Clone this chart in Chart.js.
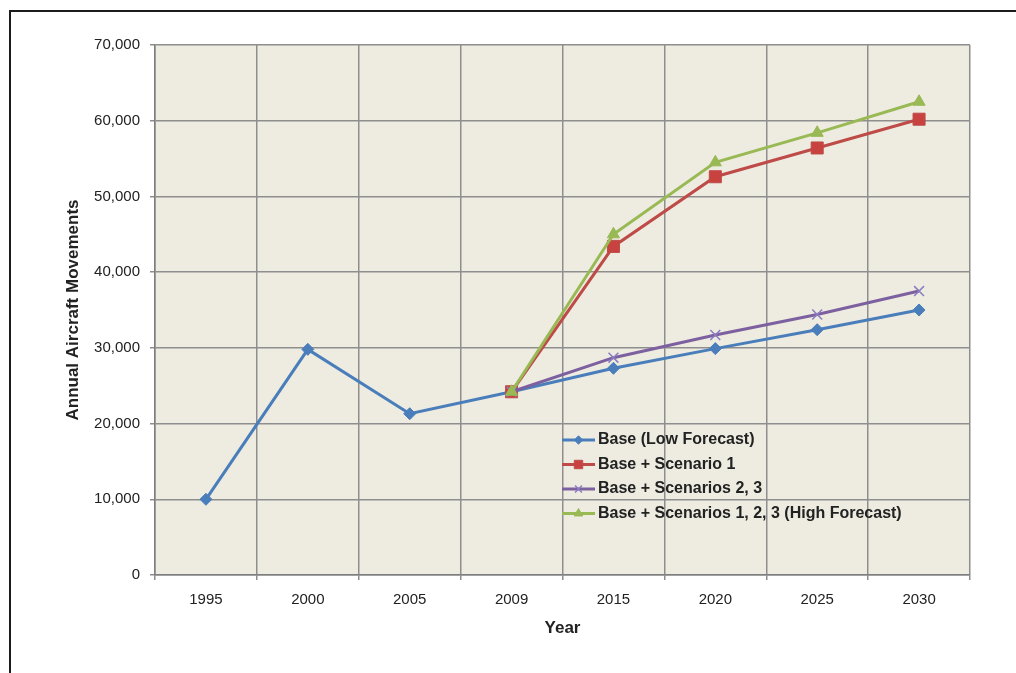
<!DOCTYPE html>
<html>
<head>
<meta charset="utf-8">
<title>Annual Aircraft Movements</title>
<script src="https://cdn.jsdelivr.net/npm/chart.js@4/dist/chart.umd.min.js"></script>
<style>
  html, body { margin: 0; padding: 0; background: #ffffff; }
  #wrap { position: relative; width: 1016px; height: 673px; overflow: hidden; }
  #frame { position: absolute; left: 9px; top: 10px; right: -10px; bottom: -10px;
           border-top: 2px solid #1c1c1c; border-left: 2px solid #1c1c1c; }
  canvas { position: absolute; left: 0; top: 0; }
</style>
</head>
<body>
<div id="wrap">
  <div id="frame"></div>
  <canvas id="chart" width="1016" height="673"></canvas>
</div>
<script>
// Category (year) labels along the x axis
const years = ['1995', '2000', '2005', '2009', '2015', '2020', '2025', '2030'];

// Annual aircraft movements per forecast series
const baseLow      = [10000, 29800, 21300, 24200, 27300, 29900, 32400, 35000];
const scenario1    = [null,  null,  null,  24200, 43400, 52600, 56400, 60200];
const scenarios23  = [null,  null,  null,  24200, 28700, 31700, 34400, 37500];
const highForecast = [null,  null,  null,  24200, 45000, 54500, 58400, 62500];

const seriesNames = [
  'Base (Low Forecast)',
  'Base + Scenario 1',
  'Base + Scenarios 2, 3',
  'Base + Scenarios 1, 2, 3 (High Forecast)'
];

// Value axis range
const yMin = 0, yMax = 70000, yStep = 10000;

const TEXT = '#222222';
const GRID = '#8e8e8e';
const FONT = "'Liberation Sans', Arial, sans-serif";

// Tan fill behind the plotting area
const plotBackground = {
  id: 'plotBackground',
  beforeDraw(chart, args, opts) {
    const { ctx, chartArea: a } = chart;
    ctx.save();
    ctx.fillStyle = opts.color;
    ctx.fillRect(a.left, a.top, a.right - a.left, a.bottom - a.top);
    ctx.restore();
  }
};

// Legend drawn inside the plotting area
const insetLegend = {
  id: 'insetLegend',
  afterDatasetsDraw(chart, args, opts) {
    const { ctx, chartArea: a } = chart;
    const x0 = a.left + opts.left;
    const y0 = a.top + opts.top;
    ctx.save();
    ctx.font = opts.font;
    ctx.textBaseline = 'middle';
    ctx.textAlign = 'left';
    chart.data.datasets.forEach((ds, i) => {
      const y = y0 + i * opts.rowHeight;
      ctx.strokeStyle = ds.borderColor;
      ctx.lineWidth = ds.borderWidth;
      ctx.beginPath();
      ctx.moveTo(x0, y);
      ctx.lineTo(x0 + opts.lineLength, y);
      ctx.stroke();
      ctx.fillStyle = ds.pointBackgroundColor;
      ctx.strokeStyle = ds.pointBorderColor;
      ctx.lineWidth = ds.pointBorderWidth;
      Chart.helpers.drawPoint(ctx, {
        pointStyle: ds.pointStyle,
        radius: ds.pointRadius * opts.markerScale,
        rotation: 0,
        borderWidth: ds.pointBorderWidth
      }, x0 + opts.lineLength / 2, y);
      ctx.fillStyle = opts.color;
      ctx.fillText(ds.label, x0 + opts.lineLength + opts.gap, y);
    });
    ctx.restore();
  }
};

function series(label, data, color, markerFill, markerBorder, style, radius, markerWidth, order) {
  return {
    label, data,
    borderColor: color,
    backgroundColor: color,
    borderWidth: 3,
    pointStyle: style,
    pointRadius: radius,
    pointHoverRadius: radius,
    pointBackgroundColor: markerFill,
    pointBorderColor: markerBorder,
    pointBorderWidth: markerWidth,
    tension: 0,
    spanGaps: false,
    order
  };
}

new Chart(document.getElementById('chart'), {
  type: 'line',
  data: {
    labels: years,
    datasets: [
      series(seriesNames[0], baseLow,      '#4A7EBB', '#4A7EBB', '#4A7EBB', 'rectRot',  6,   1,   4),
      series(seriesNames[1], scenario1,    '#BE4B48', '#C8423F', '#BE4B48', 'rect',     8.5, 1,   3),
      series(seriesNames[2], scenarios23,  '#7D60A0', '#8A7CC0', '#8A7CC0', 'crossRot', 7,   1.5, 2),
      series(seriesNames[3], highForecast, '#98B954', '#98B954', '#98B954', 'triangle', 7,   1,   1)
    ]
  },
  options: {
    responsive: false,
    animation: false,
    devicePixelRatio: 1,
    events: [],
    layout: { padding: { top: 45, right: 46, bottom: 0, left: 0 } },
    plugins: {
      legend: { display: false },
      tooltip: { enabled: false },
      plotBackground: { color: '#EEECE1' },
      insetLegend: {
        left: 407, top: 395, rowHeight: 24.5, lineLength: 33, gap: 3,
        markerScale: 0.7, color: TEXT, font: "bold 16px " + FONT
      }
    },
    scales: {
      x: {
        type: 'category',
        offset: true,
        grid: { offset: true, color: GRID, lineWidth: 1.5, tickLength: 5, drawTicks: true },
        border: { color: '#7f7f7f', width: 1.5 },
        ticks: { color: TEXT, font: { family: FONT, size: 15 }, padding: 11, maxRotation: 0 },
        title: {
          display: true, text: 'Year', color: TEXT,
          font: { family: FONT, size: 17, weight: 'bold' },
          padding: { top: 0, bottom: 34 }
        },
        afterFit(scale) { scale.height = 98; }
      },
      y: {
        min: yMin, max: yMax,
        grid: { color: GRID, lineWidth: 1.5, tickLength: 5, drawTicks: true },
        border: { color: '#7f7f7f', width: 1.5 },
        ticks: {
          stepSize: yStep, color: TEXT, padding: 10,
          font: { family: FONT, size: 15 },
          callback: v => v.toLocaleString('en-US')
        },
        title: {
          display: true, text: 'Annual Aircraft Movements', color: TEXT,
          font: { family: FONT, size: 17, weight: 'bold' },
          padding: { top: 63, bottom: 0 }
        },
        afterFit(scale) { scale.width = 155; }
      }
    }
  },
  plugins: [plotBackground, insetLegend]
});
</script>
</body>
</html>
